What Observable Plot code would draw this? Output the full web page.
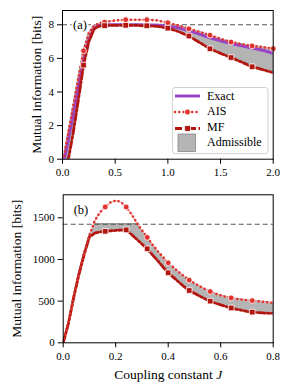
<!DOCTYPE html>
<html><head><meta charset="utf-8">
<script src="https://cdn.jsdelivr.net/npm/d3@7"></script>
<script src="https://cdn.jsdelivr.net/npm/@observablehq/plot@0.6"></script>
<style>
body{margin:0;background:#fff;}
#wrap{position:relative;width:290px;height:390px;font-family:"Liberation Serif",serif;}
#wrap > svg{display:block}
#wrap svg text{font-family:"Liberation Serif",serif;}
#legend{position:absolute;left:171.5px;top:87px;}
</style></head><body><div id="wrap"></div>
<script>
// ---------- Panel (a) data ----------
const jA     = [0, 0.05, 0.1, 0.15, 0.2, 0.25, 0.3, 0.35, 0.4, 0.5, 0.6, 0.7, 0.8, 0.9, 1.0, 1.1, 1.2, 1.3, 1.4, 1.5, 1.6, 1.7, 1.8, 1.9, 2.0];
const exactA = [-0.6, 1.0, 2.6, 4.3, 5.9, 7.1, 7.8, 7.97, 8.0, 8.0, 8.0, 8.0, 7.99, 7.97, 7.92, 7.82, 7.64, 7.44, 7.23, 7.05, 6.88, 6.75, 6.62, 6.48, 6.31];
const aisA   = [-0.3, 1.4, 3.1, 4.8, 6.45, 7.5, 7.95, 8.1, 8.16, 8.26, 8.3, 8.3, 8.3, 8.26, 8.12, 7.95, 7.76, 7.58, 7.38, 7.17, 6.97, 6.85, 6.74, 6.67, 6.58];
const mfA    = [-1.8, -0.2, 1.5, 3.5, 5.6, 7.0, 7.75, 7.92, 7.95, 7.97, 7.97, 7.96, 7.94, 7.9, 7.8, 7.6, 7.33, 6.95, 6.57, 6.3, 6.05, 5.78, 5.5, 5.33, 5.15];
const levelA = 8;
const aisMarksA = [0.2, 0.4, 0.6, 0.8, 1.0, 1.2, 1.4, 1.6, 1.8, 2.0];
const mfMarksA  = [0.2, 0.4, 0.6, 0.8, 1.0, 1.2, 1.4, 1.6, 1.8];
const xTicksA = [0, 0.5, 1.0, 1.5, 2.0];
const yTicksA = [0, 2, 4, 6, 8];

// ---------- Panel (b) data ----------
const jB   = [0, 0.02, 0.04, 0.06, 0.08, 0.1, 0.12, 0.14, 0.16, 0.18, 0.2, 0.22, 0.24, 0.26, 0.28, 0.3, 0.32, 0.34, 0.36, 0.38, 0.4, 0.42, 0.44, 0.46, 0.48, 0.5, 0.52, 0.54, 0.56, 0.58, 0.6, 0.62, 0.64, 0.66, 0.68, 0.7, 0.72, 0.74, 0.76, 0.78, 0.8];
const aisB = [0, 250, 560, 840, 1080, 1290, 1465, 1565, 1630, 1685, 1708, 1690, 1630, 1545, 1440, 1350, 1265, 1180, 1100, 1030, 960, 905, 850, 800, 752, 715, 680, 645, 615, 590, 570, 552, 538, 527, 518, 512, 506, 500, 492, 485, 478];
const mfB  = [0, 230, 540, 820, 1060, 1270, 1315, 1330, 1338, 1343, 1348, 1352, 1355, 1300, 1243, 1185, 1128, 1055, 985, 910, 840, 785, 730, 675, 628, 595, 560, 528, 500, 475, 455, 435, 418, 402, 390, 378, 368, 362, 358, 355, 352];
const levelB = 1423;
const aisMarksB = [0.16, 0.24, 0.32, 0.40, 0.48, 0.56, 0.64, 0.72];
const mfMarksB  = [0.16, 0.24, 0.32, 0.40, 0.48, 0.56, 0.64, 0.72];
const xTicksB = [0, 0.2, 0.4, 0.6, 0.8];
const yTicksB = [0, 500, 1000, 1500];

const legendLabels = ["Exact", "AIS", "MF", "Admissible"];

// ---------- style ----------
const FONT = '"Liberation Serif", serif';
const PURPLE = "#9a44c6", RED = "#e0312c", DARKRED = "#b3150f", PINK = "#f3b4b4";
const GREY = "#b4b4b4", GREYEDGE = "#6a6a6a";

const rowsA = jA.map((J, i) => ({J, exact: exactA[i], ais: aisA[i], mf: mfA[i]}));
const rowsB = jB.map((J, i) => ({J, ais: aisB[i], mf: mfB[i]}));
const pick = (rows, js) => rows.filter(r => js.some(j => Math.abs(j - r.J) < 1e-9));

function panel({rows, level, hasExact, aisMarks, mfMarks, xDomain, yDomain, xTicks, yTicks, xFmt,
                height, mt, mb, ml, mr, tag, tagDy, yLabelDx, xLabel}) {
  const marks = [
    Plot.areaY(rows, {x: "J", y1: "mf", y2: d => Math.min(d.ais, level), fill: GREY, stroke: GREYEDGE, strokeWidth: 0.8, clip: true}),
    Plot.ruleY([level], {stroke: "#555", strokeWidth: 1.1, strokeDasharray: "5,3"}),
    Plot.lineY(rows, {x: "J", y: "ais", stroke: PINK, strokeWidth: 1.3, clip: true})
  ];
  if (hasExact) marks.push(Plot.lineY(rows, {x: "J", y: "exact", stroke: PURPLE, strokeWidth: 3, clip: true}));
  marks.push(
    Plot.lineY(rows, {x: "J", y: "mf", stroke: DARKRED, strokeWidth: 2.8, strokeDasharray: "7,2.5,2,2.5", clip: true}),
    Plot.lineY(rows, {x: "J", y: "ais", stroke: RED, strokeWidth: 2.6, strokeDasharray: "0,4.3", strokeLinecap: "round", clip: true}),
    Plot.dot(pick(rows, aisMarks), {x: "J", y: "ais", r: 2.9, fill: RED, stroke: "white", strokeWidth: 0.8}),
    Plot.dot(pick(rows, mfMarks), {x: "J", y: "mf", symbol: "square", r: 3.2, fill: DARKRED, stroke: "white", strokeWidth: 0.8}),
    Plot.frame({stroke: "#000", strokeWidth: 1}),
    Plot.axisX({ticks: xTicks, tickFormat: xFmt, tickSize: 5, tickPadding: 4, label: null}),
    Plot.axisY({ticks: yTicks, tickFormat: d3.format("d"), tickSize: 5, tickPadding: 3.5, label: null}),
    Plot.text([tag], {frameAnchor: "top-left", dx: 10.5, dy: tagDy, textAnchor: "start", lineAnchor: "middle", fontSize: 12.5, fill: "#000", stroke: "white", strokeWidth: 4}),
    Plot.text(["Mutual information [bits]"], {frameAnchor: "left", dx: yLabelDx, rotate: -90, textAnchor: "middle", lineAnchor: "middle", fontSize: 13.5, fill: "#000"})
  );
  if (xLabel) marks.push(Plot.text([xLabel], {frameAnchor: "bottom", dy: 32, textAnchor: "middle", lineAnchor: "middle", fontSize: 13.5, fill: "#000"}));
  return Plot.plot({
    width: 290, height, marginTop: mt, marginBottom: mb, marginLeft: ml, marginRight: mr,
    x: {domain: xDomain}, y: {domain: yDomain},
    style: {fontFamily: FONT, fontSize: "11px", color: "#000", background: "white", overflow: "visible"},
    marks
  });
}

const wrap = document.getElementById("wrap");
wrap.appendChild(panel({rows: rowsA, level: levelA, hasExact: true, aisMarks: aisMarksA, mfMarks: mfMarksA,
  xDomain: [0, 2], yDomain: [0, 8.85], xTicks: xTicksA, yTicks: yTicksA, xFmt: d3.format(".1f"),
  height: 185, mt: 10, mb: 26.3, ml: 62, mr: 17.3, tag: "(a)", tagDy: 14.5, yLabelDx: -26}));
const pb = panel({rows: rowsB, level: levelB, hasExact: false, aisMarks: aisMarksB, mfMarks: mfMarksB,
  xDomain: [0, 0.8], yDomain: [0, 1776], xTicks: xTicksB, yTicks: yTicksB, xFmt: d3.format(".1f"),
  height: 205, mt: 9.3, mb: 47.7, ml: 62.7, mr: 17.3, tag: "(b)", tagDy: 15.4, yLabelDx: -46.7,
  xLabel: "Coupling constant J"});
wrap.appendChild(pb);
// italic J in the x label
pb.querySelectorAll("text").forEach(t => {
  if (t.textContent === "Coupling constant J") {
    t.textContent = "Coupling constant ";
    const ts = document.createElementNS("http://www.w3.org/2000/svg", "tspan");
    ts.setAttribute("font-style", "italic");
    ts.textContent = "J";
    t.appendChild(ts);
  }
});

// ---------- legend ----------
const lg = d3.select(wrap).append("svg").attr("id", "legend").attr("width", 97).attr("height", 68)
  .style("font-family", FONT).style("font-size", "12px");
lg.append("rect").attr("x", 0.5).attr("y", 0.5).attr("width", 95.5).attr("height", 66)
  .attr("rx", 2.5).attr("fill", "white").attr("fill-opacity", 0.85).attr("stroke", "#d2d2d2").attr("stroke-width", 1);
const rowY = [9, 25, 41.5];
lg.append("line").attr("x1", 3).attr("x2", 28).attr("y1", rowY[0]).attr("y2", rowY[0]).attr("stroke", PURPLE).attr("stroke-width", 3);
lg.append("line").attr("x1", 3).attr("x2", 28).attr("y1", rowY[1]).attr("y2", rowY[1]).attr("stroke", RED)
  .attr("stroke-width", 2.6).attr("stroke-dasharray", "0,4.3").attr("stroke-linecap", "round");
lg.append("circle").attr("cx", 15.5).attr("cy", rowY[1]).attr("r", 2.9).attr("fill", RED).attr("stroke", "white").attr("stroke-width", 0.8);
lg.append("line").attr("x1", 3).attr("x2", 28).attr("y1", rowY[2]).attr("y2", rowY[2]).attr("stroke", DARKRED)
  .attr("stroke-width", 2.8).attr("stroke-dasharray", "7,2.5,2,2.5");
lg.append("rect").attr("x", 12.7).attr("y", rowY[2] - 2.85).attr("width", 5.7).attr("height", 5.7).attr("fill", DARKRED).attr("stroke", "white").attr("stroke-width", 0.8);
lg.append("rect").attr("x", 6).attr("y", 47).attr("width", 17.5).attr("height", 17.5).attr("fill", GREY).attr("stroke", "#888").attr("stroke-width", 0.8);
const textY = [12.5, 28, 44, 58.5];
legendLabels.forEach((s, i) => lg.append("text").attr("x", 35).attr("y", textY[i]).attr("fill", "#000").text(s));
</script>
</body></html>
